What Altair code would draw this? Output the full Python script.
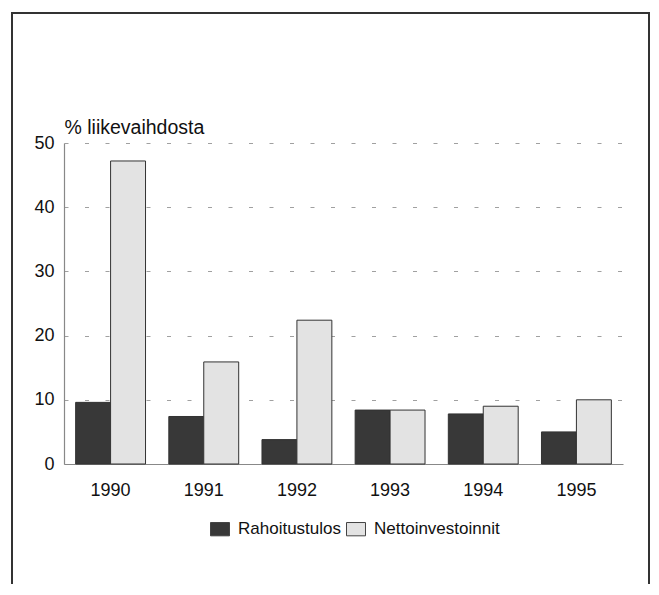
import altair as alt
import pandas as pd

years = ["1990", "1991", "1992", "1993", "1994", "1995"]
series_names = ["Rahoitustulos", "Nettoinvestoinnit"]
rahoitustulos = [9.6, 7.4, 3.8, 8.4, 7.8, 5.0]
nettoinvestoinnit = [47.2, 15.9, 22.4, 8.4, 9.0, 10.0]
y_ticks = [0, 10, 20, 30, 40, 50]
y_title = "% liikevaihdosta"

rows = []
for i, yr in enumerate(years):
    rows.append({"vuosi": yr, "sarja": series_names[0], "arvo": rahoitustulos[i]})
    rows.append({"vuosi": yr, "sarja": series_names[1], "arvo": nettoinvestoinnit[i]})
df = pd.DataFrame(rows)

FONT = "Liberation Sans"

bars = alt.Chart(df).mark_bar(stroke="#333333", strokeWidth=1).encode(
    x=alt.X("vuosi:N", sort=years,
            scale=alt.Scale(paddingInner=0.25, paddingOuter=0.125),
            axis=alt.Axis(title=None, labelAngle=0, ticks=False, labelPadding=17,
                          labelFontSize=18, labelFont=FONT, labelColor="#111111",
                          domainColor="#888888", domainWidth=1.2, grid=False)),
    xOffset=alt.XOffset("sarja:N", sort=series_names,
                        scale=alt.Scale(paddingInner=0, paddingOuter=0)),
    y=alt.Y("arvo:Q", scale=alt.Scale(domain=[0, 50], nice=False),
            axis=alt.Axis(values=y_ticks, title=y_title, titleAngle=0, titleX=0, titleY=-10,
                          titleAlign="left", titleBaseline="alphabetic",
                          titleFontSize=19.5, titleFont=FONT, titleFontWeight="normal",
                          titleColor="#111111",
                          ticks=False, labelPadding=10, labelFontSize=18, labelFont=FONT,
                          labelColor="#111111", domainColor="#888888", domainWidth=1.2,
                          grid=True, gridColor="#a0a0a0", gridDash=[4, 16.5], gridWidth=1)),
    color=alt.Color("sarja:N", sort=series_names,
                    scale=alt.Scale(domain=series_names, range=["#383838", "#e3e3e3"]),
                    legend=alt.Legend(title=None, orient="none", direction="horizontal",
                                      legendX=146, legendY=376, padding=0,
                                      symbolType="M-1,-0.7L1,-0.7L1,0.7L-1,0.7Z",
                                      symbolSize=361, symbolStrokeColor="#444444",
                                      symbolStrokeWidth=1, symbolOpacity=1,
                                      labelFontSize=17, labelFont=FONT, labelColor="#111111",
                                      labelOffset=8, columnPadding=2)),
)

border = alt.Chart(alt.Data(values=[{}])).mark_rect(
    fill="transparent", stroke="#333333", strokeWidth=2
).encode(x=alt.value(-52), x2=alt.value(585), y=alt.value(-130), y2=alt.value(480))

chart = alt.layer(bars, border).properties(
    width=559, height=321,
    background="white",
    autosize=alt.AutoSizeParams(type="none"),
    padding={"left": 56, "top": 135, "right": 27, "bottom": 120},
).configure_view(stroke="transparent", strokeWidth=0)

chart.save("out.html", embed_options={"renderer": "svg", "actions": False})
